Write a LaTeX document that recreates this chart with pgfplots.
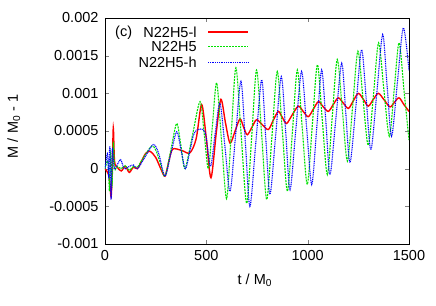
\documentclass[border=0pt]{standalone}
\usepackage{fontspec}
\setmainfont{Liberation Sans}
\usepackage{pgfplots}
\pgfplotsset{compat=1.18}
\definecolor{gpred}{RGB}{255,0,0}
\definecolor{gpgreen}{RGB}{0,225,0}
\definecolor{gpblue}{RGB}{0,0,255}
\newcommand{\fs}{\fontsize{14.5}{16}\selectfont}
\tikzset{
  redstyle/.style={gpred, line width=1.4pt},
  greenstyle/.style={gpgreen, line width=1.1pt, dash pattern=on 2pt off 1pt},
  bluestyle/.style={gpblue, line width=1.1pt, dash pattern=on 1pt off 0.8pt},
}
\begin{document}
\begin{tikzpicture}
\useasboundingbox (-105pt,-61pt) rectangle (331pt,244pt);
\begin{axis}[
  at={(0pt,0pt)}, anchor=south west,
  scale only axis, width=304pt, height=226pt,
  xmin=0, xmax=1500, ymin=-0.001, ymax=0.002,
  xtick={0,500,1000,1500},
  xticklabels={0,500,1000,1500},
  ytick={-0.001,-0.0005,0,0.0005,0.001,0.0015,0.002},
  yticklabels={-0.001,-0.0005,0,0.0005,0.001,0.0015,0.002},
  scaled y ticks=false, scaled x ticks=false,
  tick align=inside, major tick length=4pt,
  axis line style={line width=0.8pt},
  /pgf/number format/assume math mode=true,
  tick label style={font=\fs},
  yticklabel style={xshift=-3pt},
  xticklabel style={yshift=-3pt},
  xlabel={t / M\textsubscript{0}},
  ylabel={M / M\textsubscript{0} - 1},
  every axis x label/.style={at={(axis description cs:0.493,-0.16)}, anchor=center, font=\fs},
  every axis y label/.style={at={(axis description cs:-0.30,0.52)}, rotate=90, anchor=center, font=\fs},
]
\addplot[redstyle, smooth, tension=0.5] coordinates {
(0,0) (20,-0.0001) (30,-0.00037) (36,0.0) (41,0.00054) (47,0.0001) (60,0.00002) (80,-0.00003)
(100,0.00003) (120,-0.00005) (140,0.00002) (160,0.0) (180,0.0001) (200,0.0002) (222,0.00023)
(250,0.00015) (275,0.0) (296,-0.0001) (315,0.0001) (334,0.00026) (380,0.00024) (419,0.00021)
(450,0.0004) (477,0.00085) (500,0.0004) (523,-0.00012) (550,0.0005) (572,0.00092) (595,0.0006)
(617,0.00034) (642,0.0005) (666,0.00066) (684,0.00055) (702,0.00045) (725,0.00055) (748,0.00065)
(777,0.00058) (806,0.00052) (830,0.00064) (855,0.00076) (875,0.00068) (896,0.0006) (925,0.00072)
(954,0.00083) (978,0.00076) (1003,0.00069) (1028,0.00079) (1053,0.00089) (1077,0.00082)
(1102,0.00076) (1126,0.00085) (1151,0.00094) (1176,0.00087) (1201,0.0008) (1225,0.0009)
(1250,0.001) (1275,0.00092) (1299,0.00083) (1324,0.00092) (1349,0.001) (1378,0.00091)
(1406,0.00082) (1428,0.00088) (1451,0.00094) (1475,0.00085) (1500,0.00076)
};
\addplot[greenstyle, smooth, tension=0.5] coordinates {
(0,0) (15,0.0001) (22,-0.0003) (28,0.0002) (35,-0.0002) (41,0.00034) (48,0.0) (60,0.00003)
(80,0.0) (100,0.00004) (120,-0.00002) (140,0.00003) (160,0.00002) (190,0.00015) (230,0.0003)
(250,0.00025) (270,0.0001) (296,-0.0001) (325,0.00025) (354,0.0006) (375,0.0003) (395,0.0)
(432,0.00045) (469,0.00089) (490,0.00045) (510,0.0) (530,0.00057) (551,0.00114) (575,0.00037)
(600,-0.0004) (623,0.00047) (646,0.00134) (672,0.00044) (699,-0.00046) (724,0.00043)
(748,0.00131) (773,0.00045) (798,-0.00041) (824,0.00044) (850,0.00129) (875,0.0005)
(900,-0.0003) (925,0.0005) (949,0.00131) (973,0.00055) (998,-0.00021) (1023,0.00058)
(1048,0.00138) (1072,0.00065) (1097,-0.00008) (1121,0.00068) (1146,0.00145) (1171,0.00078)
(1196,0.0001) (1222,0.00083) (1248,0.00156) (1273,0.00093) (1299,0.00031) (1325,0.00099)
(1350,0.00167) (1376,0.00105) (1403,0.00043) (1427,0.00105) (1451,0.00167) (1476,0.00102)
(1500,0.00038)
};
\addplot[bluestyle, smooth, tension=0.5] coordinates {
(0,0) (12,0.0002) (18,-0.0001) (24,0.0003) (30,-0.00041) (36,0.00025) (45,0.0) (60,0.00005)
(77,0.00012) (95,0.0) (120,0.00003) (140,0.00005) (160,0.0) (190,0.00012) (238,0.00032)
(265,0.0002) (296,-0.0001) (325,0.0002) (354,0.00049) (375,0.00025) (397,0.0) (420,0.00025)
(444,0.00049) (493,0.00049) (520,0.00003) (543,0.00045) (567,0.00087) (592,0.00029)
(617,-0.0003) (644,0.00043) (671,0.00116) (693,0.00033) (715,-0.0005) (744,0.00034)
(773,0.00118) (793,0.00042) (814,-0.00034) (842,0.00044) (870,0.00122) (892,0.00047)
(913,-0.00028) (941,0.0005) (970,0.00129) (995,0.00054) (1020,-0.00021) (1045,0.00055)
(1069,0.00131) (1090,0.00062) (1110,-0.00008) (1139,0.00066) (1168,0.0014) (1188,0.00074)
(1209,0.00008) (1238,0.00083) (1266,0.00158) (1289,0.00092) (1312,0.00025) (1341,0.001)
(1370,0.00178) (1392,0.0011) (1414,0.00043) (1443,0.00115) (1472,0.00187) (1500,0.0013)
};
% legend (gnuplot style: key text right-aligned, sample to the right)
\node[anchor=east, font=\fs] at (axis description cs:0.313,0.938) {N22H5-l};
\node[anchor=east, font=\fs] at (axis description cs:0.313,0.872) {N22H5};
\node[anchor=east, font=\fs] at (axis description cs:0.313,0.805) {N22H5-h};
\draw[redstyle] (axis description cs:0.339,0.938) -- (axis description cs:0.470,0.938);
\draw[greenstyle] (axis description cs:0.339,0.872) -- (axis description cs:0.470,0.872);
\draw[bluestyle] (axis description cs:0.339,0.805) -- (axis description cs:0.470,0.805);
\node[anchor=west, font=\fs] at (axis description cs:0.022,0.935) {(c)};
\end{axis}
\end{tikzpicture}
\end{document}
